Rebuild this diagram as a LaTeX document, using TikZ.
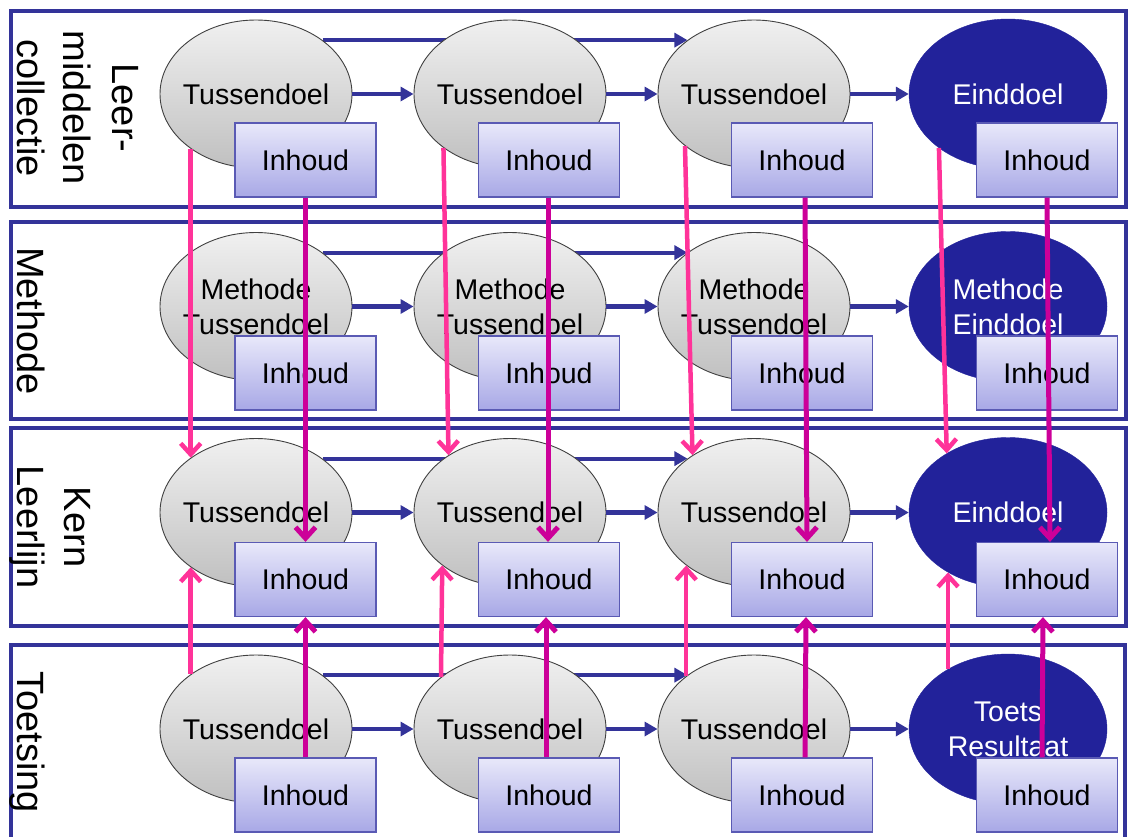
\documentclass[tikz,border=0pt]{standalone}
\usepackage{fontspec}
\setmainfont{Liberation Sans}
\usetikzlibrary{shapes.geometric,arrows.meta}
\pgfdeclarelayer{bg}
\pgfsetlayers{bg,main}
\definecolor{frame}{RGB}{51,51,153}
\definecolor{arrowblue}{RGB}{51,51,153}
\definecolor{pinkA}{RGB}{255,51,153}
\definecolor{magA}{RGB}{204,0,153}
\definecolor{darkE}{RGB}{34,34,154}
\definecolor{ellline}{RGB}{64,64,64}
\definecolor{greyT}{RGB}{240,240,240}
\definecolor{greyB}{RGB}{192,192,192}
\definecolor{boxT}{RGB}{232,232,250}
\definecolor{boxB}{RGB}{168,168,230}
\definecolor{boxline}{RGB}{90,90,180}
\newcommand\ntxt{\fontsize{28.5}{35}\selectfont}
\newcommand\sidetxt{\fontsize{38}{47}\selectfont}
\begin{document}
\begin{tikzpicture}[x=1pt,y=-1pt,
  panel/.style={draw=frame,line width=3.5pt},
  tuss/.style={ellipse,minimum width=192pt,minimum height=148pt,inner sep=0pt,draw=ellline,line width=0.9pt,top color=greyT,bottom color=greyB},
  eind/.style={ellipse,minimum width=198pt,minimum height=150pt,inner sep=0pt,fill=darkE,draw=darkE},
  inh/.style={rectangle,minimum width=141pt,minimum height=74pt,inner sep=0pt,draw=boxline,line width=1.2pt,top color=boxT,bottom color=boxB,font=\ntxt,text=black},
  blk/.style={font=\ntxt,text=black,align=center},
  wht/.style={font=\ntxt,text=white,align=center},
  side/.style={rotate=-90,anchor=base,font=\sidetxt,inner sep=0pt},
  barrow/.style={draw=arrowblue,line width=4.2pt,-{Triangle[length=13pt,width=14pt]}},
  parrow/.style={draw=pinkA,line width=4.5pt,-{Straight Barb[length=11pt,width=20pt]}},
  marrow/.style={draw=magA,line width=5pt,-{Straight Barb[length=11pt,width=20pt]}}
]
\useasboundingbox (0,0) rectangle (1130,836);
\begin{pgfonlayer}{bg}
\draw[panel] (11,11) rectangle (1126,207);
\draw[panel] (11,222) rectangle (1126,419);
\draw[panel] (11,428) rectangle (1126,626);
\draw[panel] (11,645) rectangle (1125,870);
\end{pgfonlayer}

% side labels
\node[side] (s1a) at (112,108) {Leer-};
\node[side] (s1b) at (63,108) {middelen};
\node[side] (s1c) at (17,108) {collectie};
\node[side] (s2) at (17,321) {Methode};
\node[side] (s3a) at (64,527) {Kern};
\node[side] (s3b) at (17,527) {Leerlijn};
\node[side] (s4) at (17,742) {Toetsing};

% row 1
\node[tuss,label={[blk]center:Tussendoel}] (e11) at (256,94) {};
\node[tuss,label={[blk]center:Tussendoel}] (e12) at (510,94) {};
\node[tuss,label={[blk]center:Tussendoel}] (e13) at (754,94) {};
\node[eind,label={[wht]center:Einddoel}] (e14) at (1008,94) {};
% row 2
\node[tuss,label={[blk]center:{Methode\\Tussendoel}}] (e21) at (256,306.5) {};
\node[tuss,label={[blk]center:{Methode\\Tussendoel}}] (e22) at (510,306.5) {};
\node[tuss,label={[blk]center:{Methode\\Tussendoel}}] (e23) at (754,306.5) {};
\node[eind,label={[wht]center:{Methode\\Einddoel}}] (e24) at (1008,306.5) {};
% row 3
\node[tuss,label={[blk]center:Tussendoel}] (e31) at (256,512.5) {};
\node[tuss,label={[blk]center:Tussendoel}] (e32) at (510,512.5) {};
\node[tuss,label={[blk]center:Tussendoel}] (e33) at (754,512.5) {};
\node[eind,label={[wht]center:Einddoel}] (e34) at (1008,512.5) {};
% row 4
\node[tuss,label={[blk]center:Tussendoel}] (e41) at (256,729) {};
\node[tuss,label={[blk]center:Tussendoel}] (e42) at (510,729) {};
\node[tuss,label={[blk]center:Tussendoel}] (e43) at (754,729) {};
\node[eind,label={[wht]center:{Toets\\Resultaat}}] (e44) at (1008,729) {};

% skip arrows (behind ellipses)
\begin{pgfonlayer}{bg}
\foreach \r in {1,2,3,4} {
  \draw[barrow] (e\r1.39) -- (e\r3.141);
}
\end{pgfonlayer}

% neighbour arrows
\foreach \r in {1,2,3,4} {
  \draw[barrow] (e\r1.east) -- (e\r2.west);
  \draw[barrow] (e\r2.east) -- (e\r3.west);
  \draw[barrow] (e\r3.east) -- (e\r4.west);
}

% content boxes
\foreach \r/\y in {1/160,2/373,3/579.5,4/795} {
  \node[inh] (b\r1) at (305.5,\y) {Inhoud};
  \node[inh] (b\r2) at (549,\y) {Inhoud};
  \node[inh] (b\r3) at (802,\y) {Inhoud};
  \node[inh] (b\r4) at (1047,\y) {Inhoud};
}

% pink arrows between goals
\draw[parrow] (e11.220) -- (e31.140);
\draw[parrow] (e41.140) -- (e31.220);
\draw[parrow] (e12.219) -- (e32.137);
\draw[parrow] (e42.143) -- (e32.218);
\draw[parrow] (e13.217) -- (e33.137);
\draw[parrow] (e43.142) -- (e33.218);
\draw[parrow] (e14.218) -- (e34.136);
\draw[parrow] (e44.135) -- (e34.225);

% magenta arrows between contents
\draw[marrow] (b11.south) -- (b31.north);
\draw[marrow] (b41.north) -- (b31.south);
\draw[marrow] ([xshift=-1pt]b12.south) -- ([xshift=-1pt]b32.north);
\draw[marrow] ([xshift=-3pt]b42.north) -- ([xshift=-3pt]b32.south);
\draw[marrow] ([xshift=3pt]b13.south) -- ([xshift=5pt]b33.north);
\draw[marrow] ([xshift=3pt]b43.north) -- ([xshift=4pt]b33.south);
\draw[marrow] (b14.south) -- ([xshift=3pt]b34.north);
\draw[marrow] ([xshift=-5pt]b44.north) -- ([xshift=-4pt]b34.south);
\end{tikzpicture}
\end{document}
